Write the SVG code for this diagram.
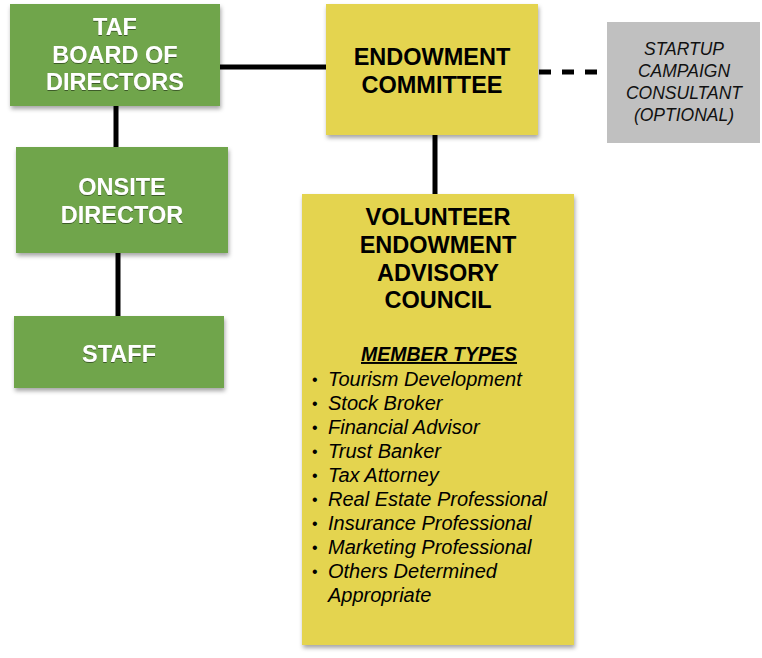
<svg xmlns="http://www.w3.org/2000/svg" width="762" height="658" viewBox="0 0 762 658">
<defs>
<filter id="sh" x="-10%" y="-10%" width="125%" height="125%">
<feDropShadow dx="1" dy="3" stdDeviation="2" flood-color="#000" flood-opacity="0.35"/>
</filter>
<filter id="ts" x="-10%" y="-20%" width="120%" height="150%">
<feDropShadow dx="0" dy="1" stdDeviation="0.6" flood-color="#000" flood-opacity="0.45"/>
</filter>
<style>
.green{fill:#6fa54b;filter:url(#sh)}
.yellow{fill:#e4d44f;filter:url(#sh)}
.gray{fill:#c0c0c0}
.wt{font-family:"Liberation Sans",Arial,sans-serif;font-weight:bold;font-size:23.5px;fill:#fff;text-anchor:middle;filter:url(#ts)}
.bt{font-family:"Liberation Sans",Arial,sans-serif;font-weight:bold;font-size:23.5px;fill:#000;text-anchor:middle}
.it{font-family:"Liberation Sans",Arial,sans-serif;font-style:italic;font-size:17.5px;fill:#111;text-anchor:middle}
.li{font-family:"Liberation Sans",Arial,sans-serif;font-style:italic;font-size:20px;fill:#000}
.bu{font-family:"Liberation Sans",Arial,sans-serif;font-size:16px;fill:#000}
.ln{stroke:#000;stroke-width:5;fill:none}
</style>
</defs>
<g id="connectors">
<line class="ln" x1="220" y1="67" x2="326" y2="67"/>
<line class="ln" x1="539" y1="72" x2="600" y2="72" stroke-width="6" stroke-dasharray="12,11"/>
<line class="ln" x1="435" y1="135" x2="435" y2="194"/>
<line class="ln" x1="116" y1="106" x2="116" y2="147"/>
<line class="ln" x1="118" y1="253" x2="118" y2="316"/>
</g>
<g id="taf-board">
<rect class="green" x="10" y="4" width="210" height="102"/>
<text class="wt" x="115" y="35">TAF</text>
<text class="wt" x="115" y="63">BOARD OF</text>
<text class="wt" x="115" y="90">DIRECTORS</text>
</g>
<g id="onsite-director">
<rect class="green" x="16" y="147" width="212" height="106"/>
<text class="wt" x="122" y="195">ONSITE</text>
<text class="wt" x="122" y="223">DIRECTOR</text>
</g>
<g id="staff">
<rect class="green" x="14" y="316" width="210" height="72"/>
<text class="wt" x="119" y="362">STAFF</text>
</g>
<g id="endowment-committee">
<rect class="yellow" x="326" y="4" width="212" height="131"/>
<text class="bt" x="432" y="65">ENDOWMENT</text>
<text class="bt" x="432" y="93">COMMITTEE</text>
</g>
<g id="startup-consultant">
<rect class="gray" x="607" y="22" width="153" height="121"/>
<text class="it" x="684" y="55">STARTUP</text>
<text class="it" x="684" y="77">CAMPAIGN</text>
<text class="it" x="684" y="99">CONSULTANT</text>
<text class="it" x="684" y="121">(OPTIONAL)</text>
</g>
<g id="volunteer-council">
<rect class="yellow" x="302" y="194" width="272" height="451"/>
<text class="bt" x="438" y="225">VOLUNTEER</text>
<text class="bt" x="438" y="253">ENDOWMENT</text>
<text class="bt" x="438" y="281">ADVISORY</text>
<text class="bt" x="438" y="308">COUNCIL</text>
<text x="439" y="361" font-family="Liberation Sans,Arial,sans-serif" font-weight="bold" font-style="italic" font-size="19.5" text-anchor="middle" text-decoration="underline" fill="#000">MEMBER TYPES</text>
<g class="bu">
<text x="312" y="385">•</text><text x="312" y="409">•</text><text x="312" y="433">•</text><text x="312" y="457">•</text><text x="312" y="481">•</text><text x="312" y="505">•</text><text x="312" y="529">•</text><text x="312" y="553">•</text><text x="312" y="577">•</text>
</g>
<g class="li">
<text x="328" y="386">Tourism Development</text>
<text x="328" y="410">Stock Broker</text>
<text x="328" y="434">Financial Advisor</text>
<text x="328" y="458">Trust Banker</text>
<text x="328" y="482">Tax Attorney</text>
<text x="328" y="506">Real Estate Professional</text>
<text x="328" y="530">Insurance Professional</text>
<text x="328" y="554">Marketing Professional</text>
<text x="328" y="578">Others Determined</text>
<text x="328" y="602">Appropriate</text>
</g>
</g>
</svg>
